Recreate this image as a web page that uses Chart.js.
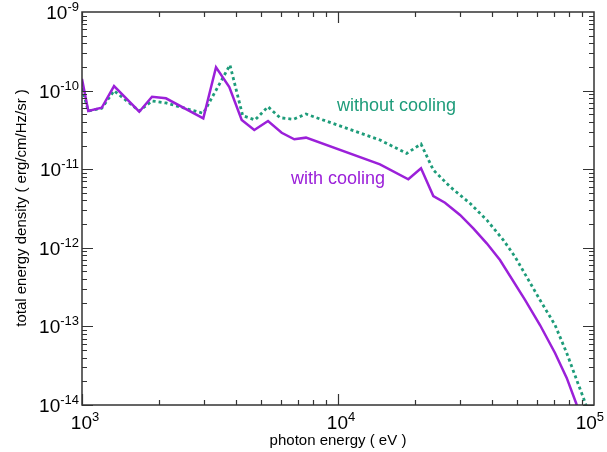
<!DOCTYPE html>
<html>
<head>
<meta charset="utf-8">
<script src="https://cdn.jsdelivr.net/npm/chart.js@4"></script>
<style>
	html, body { margin: 0; padding: 0; background: #fff; }
	canvas { display: block; }
</style>
</head>
<body>
<canvas id="myChart" width="607" height="452"></canvas>
<script>
// photon energy (eV) and density for the "with cooling" curve
let energyCool = [1000, 1058, 1194, 1334, 1674, 1877, 2128, 2977, 3338, 3762, 4206, 4710, 5329, 6026, 6750, 7499,
	14590, 18820, 21100, 23570, 26180, 29970, 33770, 38100, 42930, 53770, 61520, 70420, 78230, 85100, 88190];
let densCool = [1.41e-10, 5.5e-11, 6.05e-11, 1.14e-10, 5.39e-11, 8.36e-11, 7.98e-11, 4.44e-11, 1.98e-10, 1.11e-10,
	4.23e-11, 3.15e-11, 4.1e-11, 2.91e-11, 2.4e-11, 2.52e-11,
	1.154e-11, 7.44e-12, 1.027e-11, 4.56e-12, 3.75e-12, 2.62e-12, 1.77e-12, 1.14e-12, 7.0e-13, 2.17e-13, 1.042e-13, 4.59e-14, 2.21e-14, 1.06e-14, 7.5e-15];
// same for "without cooling"
let energyNoCool = [1000, 1058, 1194, 1334, 1674, 1877, 2128, 2977, 3784, 4244, 4741, 5329, 5934, 6689, 7499,
	14590, 18550, 21100, 23570, 27390, 32780, 38100, 44230, 49140, 61520, 70420, 78230, 85600, 92480, 95600];
let densNoCool = [1.07e-10, 5.5e-11, 5.95e-11, 9.97e-11, 5.5e-11, 7.38e-11, 6.96e-11, 5.14e-11, 2.12e-10, 4.8e-11, 4.23e-11, 6.24e-11, 4.52e-11, 4.31e-11, 5.04e-11,
	2.35e-11, 1.59e-11, 2.09e-11, 9.77e-12, 5.99e-12, 3.68e-12, 2.26e-12, 1.257e-12, 7.7e-13, 2.17e-13, 1.042e-13, 4.59e-14, 2.08e-14, 1.06e-14, 7.5e-15];
// tick exponents
let xTickExp = [3, 4, 5];
let yTickExp = [-9, -10, -11, -12, -13, -14];
// curve labels (text, x, y)
let curveLabels = ["without cooling", "with cooling"];
let curveLabelX = [9900, 6550];
let curveLabelY = [5.5e-11, 6.5e-12];

let purple = "#9b20d9",
	green = "#1e9c7a",
	labelColors = [green, purple],
	axisColor = "#333",
	fontFam = "'Liberation Sans', Arial, sans-serif";

function toPoints(xs, ys) {
	return xs.map((x, i) => ({ x: x, y: ys[i] }));
}

// draws frame, inward ticks, power-of-ten labels and titles
const axesPlugin = {
	id: "axesPlugin",
	afterDraw(chart) {
		const ctx = chart.ctx;
		const a = chart.chartArea;
		const xs = chart.scales.x, ys = chart.scales.y;
		ctx.save();
		ctx.strokeStyle = axisColor;
		ctx.lineWidth = 1.5;
		ctx.strokeRect(a.left, a.top, a.right - a.left, a.bottom - a.top);
		ctx.lineWidth = 1.2;
		ctx.beginPath();
		// x ticks
		for (let e = 3; e < 5; e++) {
			for (let m = 1; m <= 9; m++) {
				let px = Math.round(xs.getPixelForValue(m * Math.pow(10, e))) + 0.5;
				let len = m == 1 ? 11 : 5;
				ctx.moveTo(px, a.bottom); ctx.lineTo(px, a.bottom - len);
				ctx.moveTo(px, a.top); ctx.lineTo(px, a.top + len);
			}
		}
		// y ticks
		for (let e = -14; e < -9; e++) {
			for (let m = 1; m <= 9; m++) {
				let py = Math.round(ys.getPixelForValue(m * Math.pow(10, e))) + 0.5;
				let len = m == 1 ? 11 : 5;
				ctx.moveTo(a.left, py); ctx.lineTo(a.left + len, py);
				ctx.moveTo(a.right, py); ctx.lineTo(a.right - len, py);
			}
		}
		ctx.stroke();

		ctx.fillStyle = "#000";
		ctx.textBaseline = "alphabetic";
		const baseFont = "19px " + fontFam, expFont = "13px " + fontFam;
		function powLabel(exp, x, y, align) {
			ctx.font = baseFont;
			let w1 = ctx.measureText("10").width;
			ctx.font = expFont;
			let w2 = ctx.measureText(String(exp)).width;
			let start = align == "right" ? x - w1 - w2 : x - (w1 + w2) / 2;
			// keep the last label inside the canvas
			start = Math.min(start, chart.width - 3 - w1 - w2);
			ctx.textAlign = "left";
			ctx.font = baseFont;
			ctx.fillText("10", start, y);
			ctx.font = expFont;
			ctx.fillText(String(exp), start + w1, y - 8);
		}
		yTickExp.forEach((e) => {
			let py = ys.getPixelForValue(Math.pow(10, e));
			powLabel(e, a.left - 3, py + 7, "right");
		});
		xTickExp.forEach((e) => {
			let px = xs.getPixelForValue(Math.pow(10, e));
			powLabel(e, px + 3, a.bottom + 24, "center");
		});

		// axis titles
		ctx.font = "15px " + fontFam;
		ctx.textAlign = "center";
		ctx.fillText("photon energy ( eV )", (a.left + a.right) / 2, 445);
		ctx.save();
		ctx.translate(26, 208);
		ctx.rotate(-Math.PI / 2);
		ctx.fillText("total energy density ( erg/cm/Hz/sr )", 0, 0);
		ctx.restore();

		// curve labels
		ctx.font = "18px " + fontFam;
		ctx.textAlign = "left";
		curveLabels.forEach((t, i) => {
			ctx.fillStyle = labelColors[i];
			ctx.fillText(t, xs.getPixelForValue(curveLabelX[i]), ys.getPixelForValue(curveLabelY[i]));
		});
		ctx.restore();
	},
};

let ctx = document.getElementById("myChart").getContext("2d");
let myChart = new Chart(ctx, {
	type: "line",
	data: {
		datasets: [
			{
				label: "with cooling",
				data: toPoints(energyCool, densCool),
				borderColor: purple,
				borderWidth: 2.5,
				pointRadius: 0,
				tension: 0,
			},
			{
				label: "without cooling",
				data: toPoints(energyNoCool, densNoCool),
				borderColor: green,
				borderWidth: 2.8,
				borderDash: [3, 3],
				pointRadius: 0,
				tension: 0,
			},
		],
	},
	options: {
		responsive: false,
		animation: false,
		devicePixelRatio: 1,
		layout: { padding: { left: 82, right: 13, top: 12, bottom: 47 } },
		plugins: { legend: { display: false }, tooltip: { enabled: false } },
		scales: {
			x: { type: "logarithmic", min: 1000, max: 100000, display: false },
			y: { type: "logarithmic", min: 1e-14, max: 1e-9, display: false },
		},
	},
	plugins: [axesPlugin],
});
</script>
</body>
</html>
